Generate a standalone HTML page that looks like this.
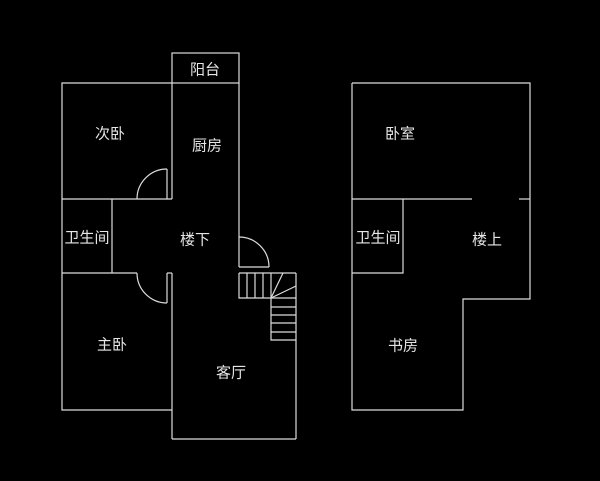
<!DOCTYPE html>
<html><head><meta charset="utf-8"><style>
html,body{margin:0;padding:0;background:#000;}
svg{display:block}
text{font-family:"Liberation Sans","Noto Sans CJK SC",sans-serif;font-size:15px;fill:#e6e6e6;text-anchor:middle;dominant-baseline:central}
</style></head><body>
<svg width="600" height="481" viewBox="0 0 600 481" xmlns="http://www.w3.org/2000/svg">
<rect width="600" height="481" fill="#000"/>
<g stroke="#dcdcdc" stroke-width="1.2" fill="none">
<!-- balcony -->
<rect x="172" y="53" width="67" height="30"/>
<!-- left plan outer -->
<polyline points="172,83 62,83 62,410 172,410"/>
<line x1="172" y1="83" x2="172" y2="199"/>
<line x1="239" y1="83" x2="239" y2="267"/>
<line x1="62" y1="199" x2="172" y2="199"/>
<line x1="167" y1="169" x2="167" y2="199"/>
<path d="M137,199 A30,30 0 0 1 167,169"/>
<line x1="112" y1="199" x2="112" y2="273"/>
<line x1="62" y1="273" x2="137" y2="273"/>
<line x1="167" y1="273" x2="172" y2="273"/>
<line x1="167" y1="273" x2="167" y2="303"/>
<path d="M137,273 A30,30 0 0 0 167,303"/>
<line x1="172" y1="273" x2="172" y2="439"/>
<line x1="172" y1="439" x2="296" y2="439"/>
<line x1="296" y1="273" x2="296" y2="439"/>
<path d="M239,237 A30,30 0 0 1 269,267"/>
<line x1="239" y1="267" x2="269" y2="267"/>
<!-- stairs -->
<polyline points="239,273 296,273"/>
<polyline points="239,273 239,298 271,298 271,340 296,340"/>
<line x1="247" y1="273" x2="247" y2="298"/>
<line x1="255" y1="273" x2="255" y2="298"/>
<line x1="263" y1="273" x2="263" y2="298"/>
<line x1="271" y1="273" x2="271" y2="298"/>
<line x1="271" y1="298" x2="283" y2="273"/>
<line x1="271" y1="298" x2="296" y2="286"/>
<line x1="271" y1="298" x2="296" y2="298"/>
<line x1="271" y1="307" x2="296" y2="307"/>
<line x1="271" y1="315" x2="296" y2="315"/>
<line x1="271" y1="323" x2="296" y2="323"/>
<line x1="271" y1="332" x2="296" y2="332"/>
<!-- right plan -->
<polyline points="352,83 530,83 530,299 463,299 463,410 352,410 352,83"/>
<line x1="352" y1="199" x2="472" y2="199"/>
<line x1="519" y1="199" x2="530" y2="199"/>
<polyline points="403,199 403,273 352,273"/>
</g>
<text x="205" y="70">阳台</text>
<text x="110" y="134">次卧</text>
<text x="207" y="146">厨房</text>
<text x="87" y="238">卫生间</text>
<text x="195" y="240">楼下</text>
<text x="112" y="345">主卧</text>
<text x="231" y="373">客厅</text>
<text x="400" y="134">卧室</text>
<text x="378" y="238">卫生间</text>
<text x="487" y="240">楼上</text>
<text x="403" y="346">书房</text>
</svg>
</body></html>
